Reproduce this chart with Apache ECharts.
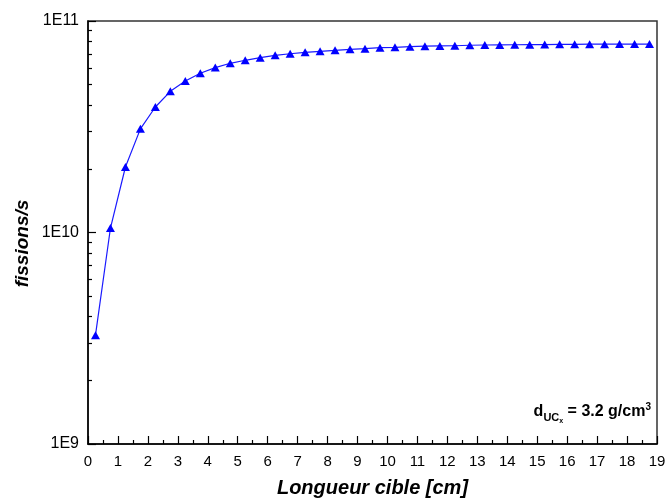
<!DOCTYPE html>
<html>
<head>
<meta charset="utf-8">
<script src="https://cdn.jsdelivr.net/npm/echarts@6/dist/echarts.min.js"></script>
<style>html,body{margin:0;padding:0;background:#fff}#c{width:665px;height:501px}</style>
</head>
<body>
<div id="c"></div>
<script>
var lengthsCm = [0.25,0.75,1.25,1.75,2.25,2.75,3.25,3.75,4.25,4.75,5.25,5.75,6.25,6.75,7.25,7.75,8.25,8.75,9.25,
  9.75,10.25,10.75,11.25,11.75,12.25,12.75,13.25,13.75,14.25,14.75,15.25,15.75,16.25,16.75,17.25,17.75,18.25,18.75];
var fissions = [3.27e9,1.05e10,2.04e10,3.09e10,3.92e10,4.65e10,5.20e10,5.66e10,6.02e10,6.31e10,6.52e10,6.71e10,6.88e10,7.00e10,7.11e10,7.19e10,7.27e10,7.35e10,7.40e10,
  7.48e10,7.51e10,7.56e10,7.60e10,7.62e10,7.64e10,7.68e10,7.70e10,7.71e10,7.72e10,7.73e10,7.74e10,7.76e10,7.76e10,7.77e10,7.77e10,7.78e10,7.78e10,7.78e10];
var yMajorTicks = [1e9,1e10,1e11];
var yMinorTicks = [2e9,3e9,4e9,5e9,6e9,7e9,8e9,9e9,2e10,3e10,4e10,5e10,6e10,7e10,8e10,9e10];
var yTickLabels = {1e9:'1E9',1e10:'1E10',1e11:'1E11'};

var pts = lengthsCm.map(function(x,i){return [x,fissions[i]];});
var chart = echarts.init(document.getElementById('c'));
var font = 'Liberation Sans, Arial, sans-serif';
chart.setOption({
  animation:false,
  grid:{left:88,right:8,top:21,bottom:57,show:true,borderColor:'#333',borderWidth:1.5,backgroundColor:'transparent',outerBoundsMode:'none',containLabel:false},
  xAxis:{type:'value',min:0,max:19,interval:1,
    name:'Longueur cible [cm]',nameLocation:'middle',nameGap:34,nameMoveOverlap:false,
    nameTextStyle:{fontFamily:font,fontSize:20,fontWeight:'bold',fontStyle:'italic',color:'#000'},
    axisLine:{show:true,onZero:false,lineStyle:{color:'#000',width:1.5}},
    axisTick:{show:true,inside:true,length:8,lineStyle:{color:'#000',width:1.2}},
    minorTick:{show:true,splitNumber:2,length:4,lineStyle:{color:'#000',width:1.2}},
    splitLine:{show:false},
    axisLabel:{fontFamily:font,fontSize:15,color:'#000',margin:10}
  },
  yAxis:[{type:'log',logBase:10,min:1e9,max:1e11,
    name:'fissions/s',nameLocation:'middle',nameGap:56,nameMoveOverlap:false,
    nameTextStyle:{fontFamily:font,fontSize:19,fontWeight:'bold',fontStyle:'italic',color:'#000',padding:[0,22,0,0]},
    axisLine:{show:true,lineStyle:{color:'#000',width:1.5}},
    axisTick:{show:true,inside:true,length:4,customValues:yMinorTicks,lineStyle:{color:'#000',width:1.2}},
    splitLine:{show:false},
    axisLabel:{fontFamily:font,fontSize:16,color:'#000',margin:9,customValues:yMajorTicks,
      formatter:function(v){return yTickLabels[v] || ('1E'+Math.round(Math.log10(v)));}}
  },{type:'log',logBase:10,min:1e9,max:1e11,position:'left',
    axisLine:{show:false},
    axisTick:{show:true,inside:true,length:8,customValues:yMajorTicks,lineStyle:{color:'#000',width:1.2}},
    axisLabel:{show:false},splitLine:{show:false}
  }],
  series:[{type:'line',data:pts,yAxisIndex:0,
    lineStyle:{color:'#1a1aff',width:1.2},
    itemStyle:{color:'#0000ff'},
    symbol:'triangle',symbolSize:[9,8],showSymbol:true
  }],
  graphic:[{type:'text',right:14,top:402,
    style:{rich:{
      b:{fontFamily:font,fontSize:16,fontWeight:'bold',fill:'#000'},
      sub:{fontFamily:font,fontSize:11,fontWeight:'bold',fill:'#000',padding:[12,0,0,0]},
      subsub:{fontFamily:font,fontSize:7,fontWeight:'bold',fill:'#000',padding:[18,0,0,0]},
      sup:{fontFamily:font,fontSize:10,fontWeight:'bold',fill:'#000',padding:[0,0,10,0]}
    },text:'{b|d}{sub|UC}{subsub|x}{b| = 3.2 g/cm}{sup|3}'}
  }]
});
</script>
</body>
</html>
